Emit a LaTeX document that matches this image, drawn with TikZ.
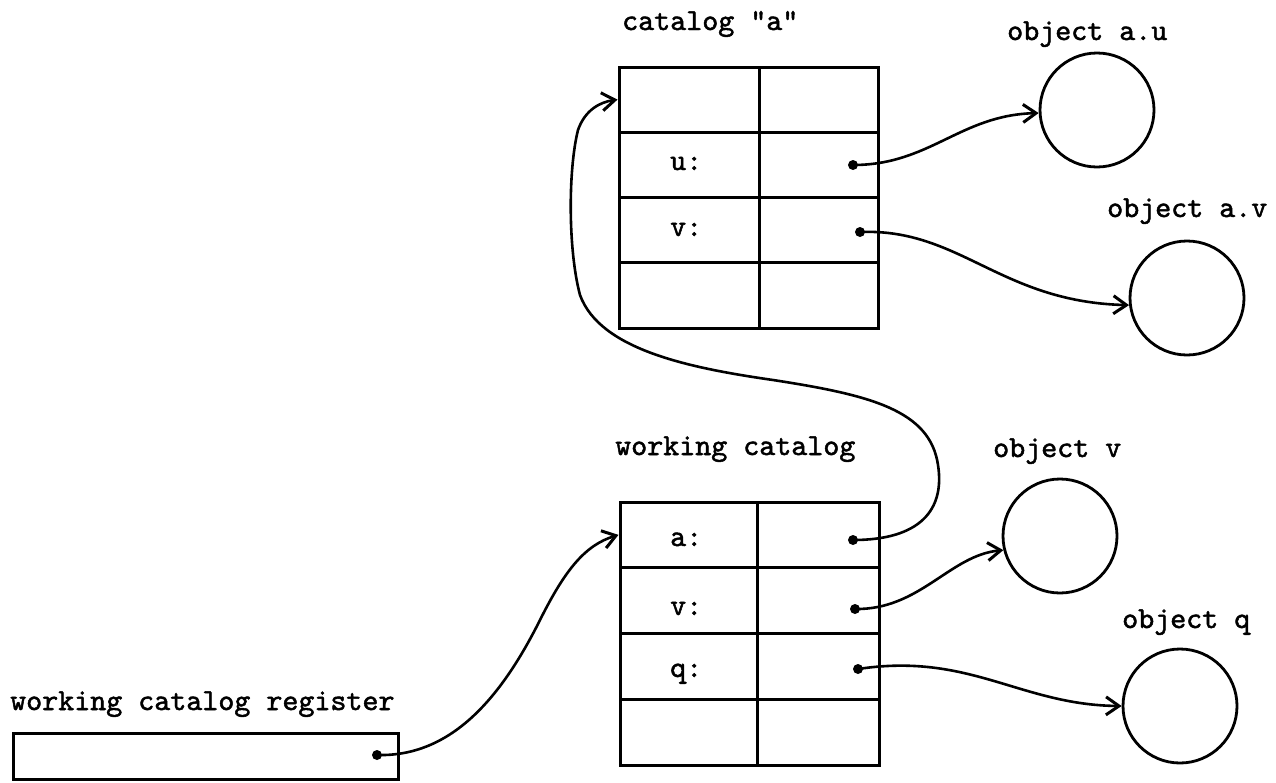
\documentclass[tikz,border=0pt]{standalone}
\usepackage{fontspec}
\newfontfamily\tw{lmmono10-regular.otf}[FakeBold=1.6]
\usetikzlibrary{arrows.meta}
\tikzset{
  cell/.style={draw, line width=3pt, inner sep=0pt, minimum width=#1, rectangle},
  lbl/.style={font=\fontsize{30.5}{36}\selectfont\tw, anchor=base west, inner sep=0pt},
  obj/.style={draw, circle, line width=2.8pt, minimum size=114pt, inner sep=0pt},
  dot/.style={circle, fill, inner sep=0pt, minimum size=10pt},
  link/.style={line width=2.6pt, -{Straight Barb[length=13pt,width=18pt,line width=3pt]}},
}
\begin{document}
\begin{tikzpicture}[x=1pt,y=-1pt]
\useasboundingbox (0,0) rectangle (1276,782);

% catalog "a"
\node[lbl] (tca) at (622,30) {catalog "a"};
\foreach \r in {1,2,3,4} {
  \node[cell=140pt, minimum height=65.25pt] (cal\r) at (689,{67+65.25*(\r-0.5)}) {};
  \node[cell=119pt, minimum height=65.25pt] (car\r) at (818.5,{67+65.25*(\r-0.5)}) {};
}
\node[lbl] (tu) at (670,170) {u:};
\node[lbl] (tv) at (670,236) {v:};
\node[dot] (du) at (853,165) {};
\node[dot] (dv) at (860,232) {};

% working catalog
\node[lbl] (twc) at (615,455) {working catalog};
\foreach \r in {1,2,3,4} {
  \node[cell=137pt, minimum height=65.75pt] (wl\r) at (688.5,{502+65.75*(\r-0.5)}) {};
  \node[cell=122pt, minimum height=65.75pt] (wr\r) at (818,{502+65.75*(\r-0.5)}) {};
}
\node[lbl] (ta) at (670,546) {a:};
\node[lbl] (twv) at (670,615) {v:};
\node[lbl] (tq) at (670,677) {q:};
\node[dot] (da) at (853,540) {};
\node[dot] (dwv) at (855,609) {};
\node[dot] (dq) at (858,669) {};

% register
\node[lbl] (treg) at (10,710) {working catalog register};
\node[draw, line width=3pt, minimum width=385pt, minimum height=46pt, inner sep=0pt] (reg) at (205.5,756) {};
\node[dot] (dreg) at (377,755) {};

% objects
\node[lbl] (tau) at (1007,40) {object a.u};
\node[obj] (au) at (1097,110) {};
\node[lbl] (tav) at (1107,217) {object a.v};
\node[obj] (av) at (1187,298) {};
\node[lbl] (tov) at (993,457) {object v};
\node[obj] (ov) at (1060,536) {};
\node[lbl] (toq) at (1122,628) {object q};
\node[obj] (oq) at (1180,706) {};

% connectors
\draw[link] (dreg.center) .. controls (450,757) and (500,700) .. (540,620)
  .. controls (565,570) and (585,545) .. (wl1.west);
\draw[link] (da.center) .. controls (920,540) and (945,510) .. (938,465)
  .. controls (930,410) and (870,395) .. (773,380)
  .. controls (690,368) and (600,350) .. (580,295)
  .. controls (568,250) and (568,170) .. (578,130)
  .. controls (585,110) and (600,102) .. (cal1.west);
\draw[link] (du.center) .. controls (930,165) and (960,115) .. (au.183);
\draw[link] (dv.center) .. controls (960,228) and (1000,302) .. (av.187);
\draw[link] (dwv.center) .. controls (920,610) and (950,555) .. (ov.194);
\draw[link] (dq.center) .. controls (970,652) and (1020,705) .. (oq.west);
\end{tikzpicture}
\end{document}
